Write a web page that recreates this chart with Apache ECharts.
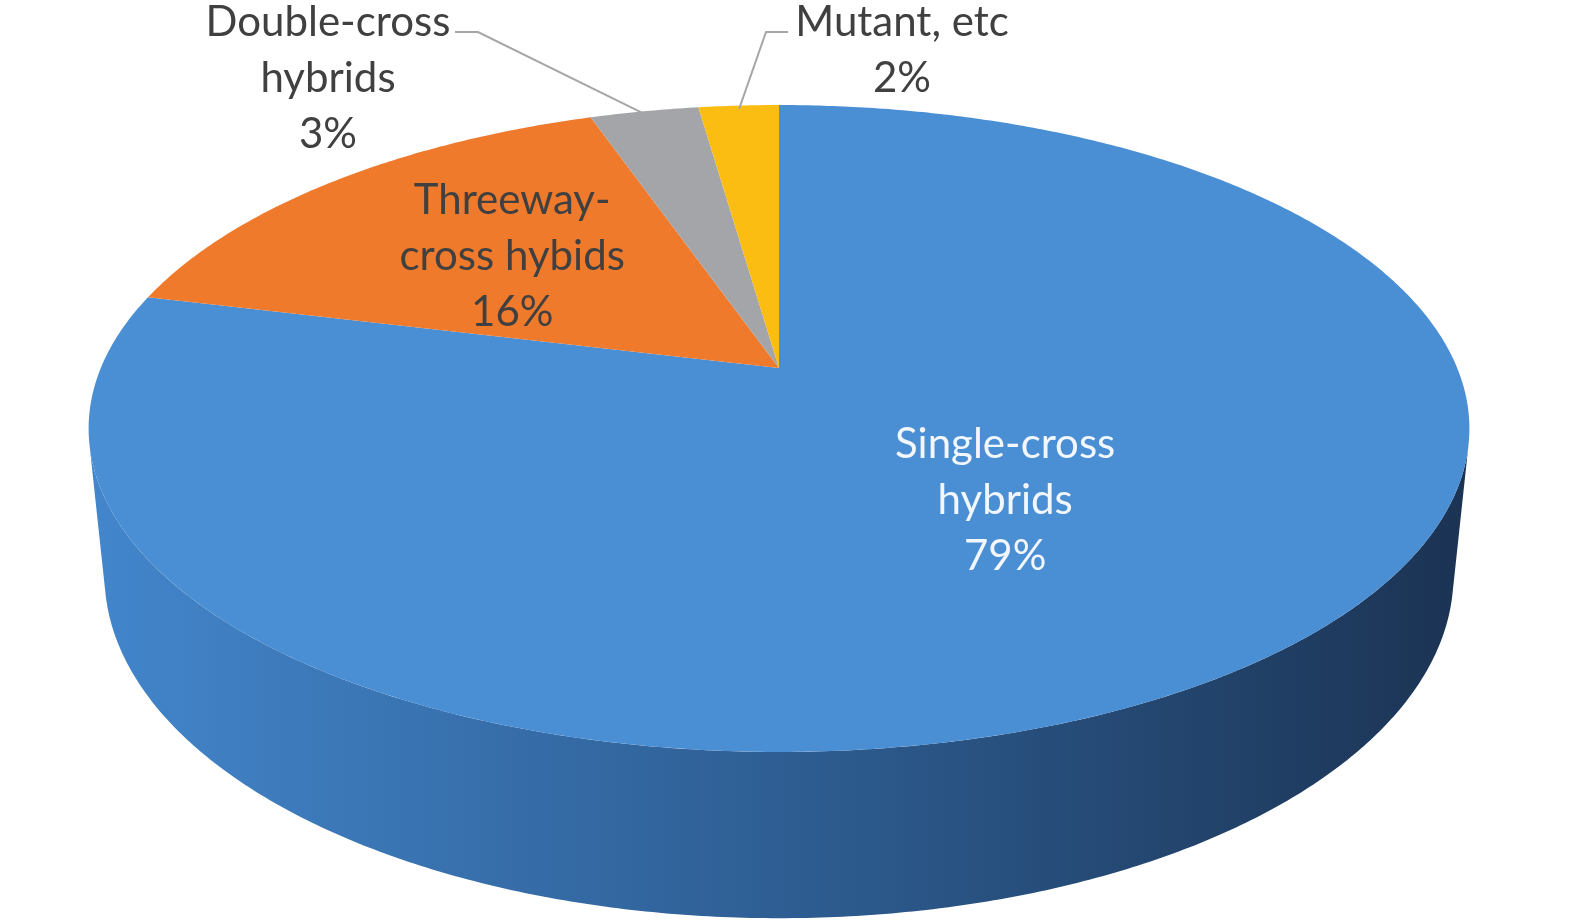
<!DOCTYPE html>
<html>
<head>
<meta charset="utf-8">
<script src="https://cdn.jsdelivr.net/npm/echarts@6/dist/echarts.min.js"></script>
<style>
  html, body { margin: 0; background: #fff; }
  #chart { width: 1575px; height: 924px; }
</style>
</head>
<body>
<div id="chart"></div>
<script>
// slices, clockwise from 12 o'clock
const categories = ['Single-cross\nhybrids', 'Threeway-\ncross hybids', 'Double-cross\nhybrids', 'Mutant, etc'];
const shares = [78.8, 15.9, 3.05, 2.25];

const topColors = ['#4a8ed4', '#ef7a2c', '#a3a5a8', '#fbbd12'];
const wallColors = [
  ['#4386cc', '#2e5e93', '#1b3353'],
  ['#c8601c', '#a04c14', '#7a3a0f'],
  ['#8a8a8a', '#6e6e6e', '#555555'],
  ['#d9a000', '#b08200', '#8a6600']
];

// label placement: inside labels sit at a radius fraction, outside ones get a leader
const labelLayout = [
  { r: 0.5, color: '#f2f7fd' },
  { r: 0.57, color: '#404040' },
  { x: 328, y: 78, color: '#404040', leader: [[455, 32], [478, 32]] },
  { x: 902, y: 50, color: '#404040', leader: [[788, 32], [766, 32]] }
];

// simple perspective camera for the tilted disc
const cam = { cx: 779, cy: 368, f: 3291, dist: 4.77, sin: 0.4524, cos: 0.892, xs: 0.983, depth: 0.24 };

function proj(deg, r, yh) {
  const t = deg * Math.PI / 180;
  const X = r * Math.sin(t), Z = r * Math.cos(t);
  const d = cam.dist + Z * cam.cos - yh * cam.sin;
  const up = Z * cam.sin + yh * cam.cos;
  return [cam.cx + cam.xs * cam.f * X / d, cam.cy - cam.f * up / d];
}

function arc(a0, a1, r, yh) {
  const pts = [];
  const n = Math.max(2, Math.ceil(Math.abs(a1 - a0) / 0.5));
  for (let k = 0; k <= n; k++) pts.push(proj(a0 + (a1 - a0) * k / n, r, yh));
  return pts;
}

// visible part of the rim wall (front side only)
const wallEdge = Math.acos(-1 / (cam.dist * cam.cos)) * 180 / Math.PI;
const wallFrom = wallEdge, wallTo = 360 - wallEdge;

const total = shares.reduce((s, v) => s + v, 0);
let acc = 0;
const sliceData = shares.map((v) => {
  const item = [acc / total, (acc + v) / total, v];
  acc += v;
  return item;
});

function renderItem(params, api) {
  const i = params.dataIndex;
  const a0 = api.value(0) * 360, a1 = api.value(1) * 360;
  const children = [];

  const w0 = Math.max(a0, wallFrom), w1 = Math.min(a1, wallTo);
  if (w1 > w0) {
    const pts = arc(w0, w1, 1, 0).concat(arc(w1, w0, 1, -cam.depth));
    const c = wallColors[i];
    children.push({
      type: 'polygon',
      z2: 0,
      shape: { points: pts },
      style: {
        fill: new echarts.graphic.LinearGradient(0, 0, 1, 0, [
          { offset: 0, color: c[0] },
          { offset: 0.5, color: c[1] },
          { offset: 1, color: c[2] }
        ])
      }
    });
  }

  children.push({
    type: 'polygon',
    z2: 1,
    shape: { points: [proj(0, 0, 0)].concat(arc(a0, a1, 1, 0)) },
    style: { fill: topColors[i] }
  });

  const lay = labelLayout[i];
  const mid = (a0 + a1) / 2;
  const pct = Math.round(api.value(2) / total * 100) + '%';
  let pos;
  if (lay.leader) {
    pos = [lay.x, lay.y];
    children.push({
      type: 'polyline',
      z2: 9,
      shape: { points: lay.leader.concat([proj(mid, 0.985, 0)]) },
      style: { stroke: '#a6a6a6', lineWidth: 2, fill: null }
    });
  } else {
    pos = proj(mid, lay.r, 0);
  }
  children.push({
    type: 'text',
    z2: 10,
    x: pos[0],
    y: pos[1],
    style: {
      text: categories[i] + '\n' + pct,
      fill: lay.color,
      fontFamily: 'Lato',
      fontSize: 42,
      lineHeight: 56,
      align: 'center',
      verticalAlign: 'middle'
    }
  });

  return { type: 'group', children: children };
}

const chart = echarts.init(document.getElementById('chart'));
chart.setOption({
  backgroundColor: '#ffffff',
  animation: false,
  series: [{
    type: 'custom',
    coordinateSystem: 'none',
    renderItem: renderItem,
    data: sliceData
  }]
});
window.addEventListener('resize', function () {
  chart.resize();
});
</script>
</body>
</html>
